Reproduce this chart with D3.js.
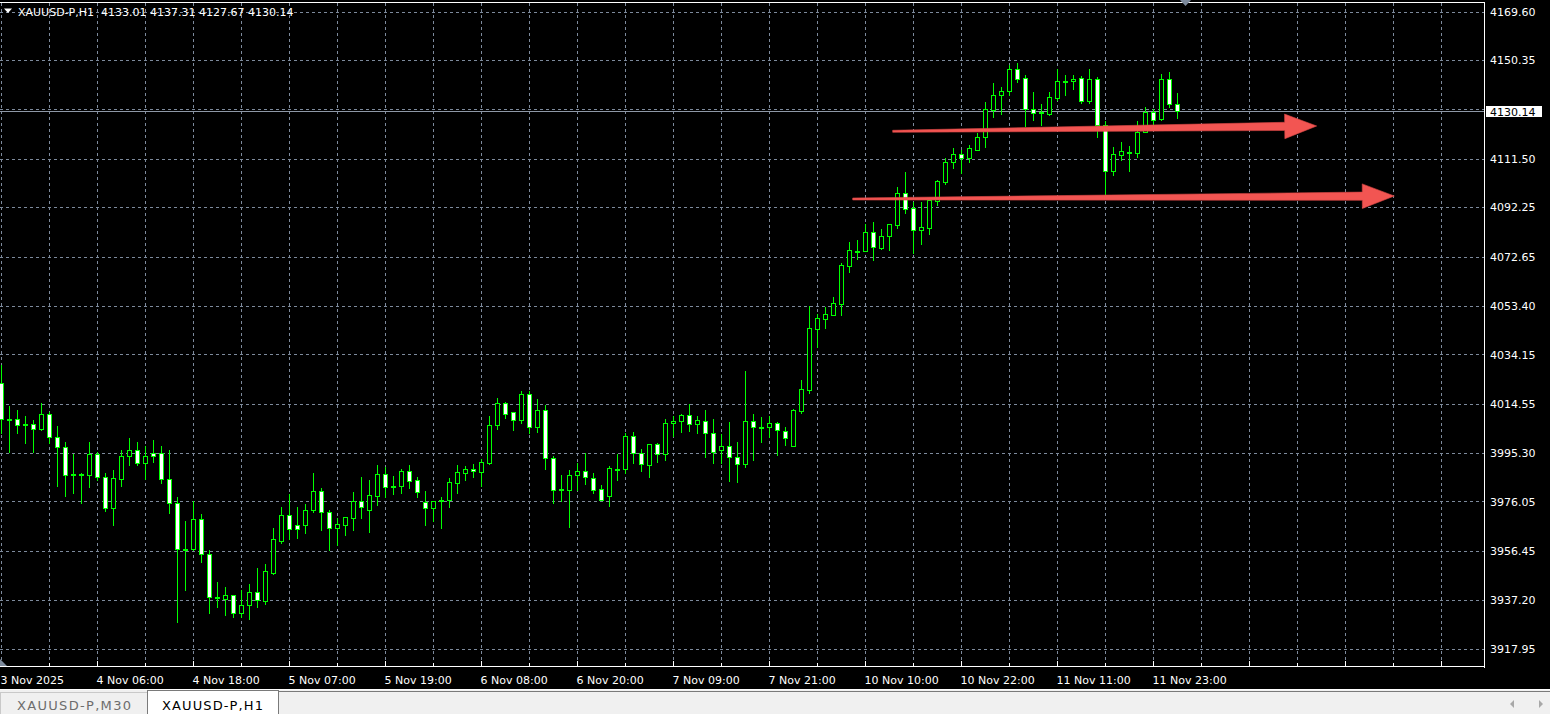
<!DOCTYPE html>
<html><head><meta charset="utf-8">
<script src="https://cdn.jsdelivr.net/npm/d3@7"></script>
<style>html,body{margin:0;padding:0;background:#000;overflow:hidden}svg{display:block}</style>
</head><body><svg id="c" width="1550" height="714"></svg>
<script>
// ---------------- data ----------------
const symbolTitle = "XAUUSD-P,H1";
const opens = [4022.72,4008.60,4008.50,4006.52,4006.52,4004.54,4010.47,4001.39,3997.43,3986.89,
3986.89,3986.61,3994.79,3985.58,3973.33,3985.03,3994.11,3996.37,3991.11,3995.18,
3995.18,3984.79,3975.55,3957.38,3957.14,3968.99,3955.16,3938.02,3937.62,3938.97,
3932.09,3935.02,3940.27,3936.83,3947.89,3960.54,3970.57,3966.62,3966.62,3972.55,
3980.05,3971.75,3965.55,3966.74,3969.62,3976.10,3972.78,3978.31,3986.77,3982.14,
3982.26,3987.95,3984.40,3975.71,3973.57,3976.61,3976.73,3983.45,3987.40,3988.74,
3987.79,3991.35,4006.13,4014.82,4011.26,4008.34,4018.49,4005.34,4012.05,3993.33,
3980.76,3980.76,3986.37,3987.95,3985.19,3980.84,3978.31,3988.98,3988.74,4001.78,
3995.30,3990.32,3998.62,3994.91,4006.92,4007.94,4010.08,4006.76,4007.71,4002.96,
3996.25,3997.83,3993.48,3990.95,4007.71,4005.57,4005.34,4006.92,4003.76,3998.07,
4011.89,4020.07,4044.29,4048.24,4049.82,4054.16,4069.17,4075.10,4075.10,4082.49,
4076.29,4081.03,4085.37,4097.78,4091.85,4083.40,4084.07,4094.85,4102.24,4110.14,
4113.18,4111.60,4115.00,4120.14,4130.68,4136.49,4138.07,4146.76,4143.21,4130.96,
4129.89,4129.22,4135.54,4142.02,4142.02,4143.21,4134.36,4142.81,4124.88,4106.71,
4113.03,4114.21,4113.82,4121.99,4129.89,4127.25,4142.81,4133.01];
const highs = [4029.95,4013.75,4012.17,4009.80,4008.22,4014.82,4011.38,4005.85,3999.53,3994.79,
3987.30,3999.53,3995.60,3987.16,3988.47,3996.37,4001.11,3999.53,3997.95,4000.32,
3997.95,3996.37,3977.68,3968.20,3976.10,3971.08,3956.86,3944.22,3942.13,3939.10,
3941.06,3943.43,3949.75,3951.33,3965.55,3973.97,3978.99,3973.97,3975.03,3987.16,
3981.36,3972.66,3969.50,3969.90,3979.78,3985.58,3984.52,3990.32,3989.53,3986.10,
3988.86,3990.32,3985.58,3980.05,3976.20,3977.68,3985.31,3990.44,3990.05,3990.84,
3992.93,4009.80,4016.91,4015.33,4011.38,4019.79,4019.79,4016.63,4014.14,3994.00,
3986.37,3988.47,3991.11,3995.30,3987.16,3982.42,3990.05,3994.79,4002.96,4003.48,
3996.64,3998.70,3999.13,4008.73,4009.80,4010.59,4014.54,4009.80,4012.17,4008.61,
4002.69,4007.43,3999.53,4027.46,4010.47,4009.28,4009.80,4007.55,4005.34,4012.56,
4024.02,4053.25,4050.09,4052.98,4056.93,4070.12,4078.54,4079.33,4085.53,4086.44,
4083.67,4085.60,4100.27,4106.19,4094.34,4094.34,4095.20,4103.03,4111.72,4115.67,
4114.88,4116.86,4121.48,4133.84,4141.47,4139.89,4148.34,4149.13,4144.63,4137.80,
4133.05,4137.80,4146.76,4144.63,4144.63,4144.12,4147.00,4143.60,4126.22,4116.19,
4118.04,4116.46,4126.46,4131.75,4131.20,4144.91,4145.70,4137.31];
const lows = [4003.08,3995.58,4003.20,3999.25,3995.58,4004.40,3999.25,3982.14,3978.20,3979.50,
3975.55,3981.87,3984.52,3972.39,3966.74,3982.14,3990.56,3990.56,3985.03,3991.63,
3983.45,3971.60,3928.54,3941.06,3957.00,3952.24,3932.09,3934.46,3931.18,3930.51,
3930.51,3929.72,3934.46,3935.53,3947.38,3959.75,3961.33,3961.60,3963.58,3971.87,
3964.76,3956.86,3958.84,3962.79,3964.76,3969.50,3964.00,3974.76,3977.92,3978.99,
3979.26,3981.36,3977.92,3966.86,3968.44,3965.55,3973.97,3979.50,3984.52,3985.82,
3982.14,3990.84,4004.78,4009.01,4004.27,4007.15,4002.96,4003.48,3988.98,3975.31,
3976.10,3965.83,3980.45,3982.94,3979.26,3976.50,3974.36,3984.52,3987.40,3991.35,
3988.19,3985.58,3991.63,3992.42,4001.90,4003.48,4003.99,4003.20,3993.72,3991.35,
3991.35,3984.24,3983.84,3989.77,3992.42,3999.53,4001.62,3994.39,3998.34,3998.00,
4011.10,4019.00,4037.18,4044.56,4049.70,4049.70,4066.69,4071.94,4075.00,4071.43,
4075.65,4075.38,4084.07,4090.11,4074.31,4077.75,4081.70,4093.27,4101.45,4107.77,
4105.91,4110.14,4114.88,4116.19,4128.04,4129.10,4136.73,4141.75,4124.36,4126.73,
4124.64,4128.59,4134.63,4136.73,4139.10,4133.33,4133.33,4120.14,4096.99,4105.13,
4110.93,4106.71,4112.00,4121.90,4124.88,4126.73,4131.99,4127.67];
const closes = [4008.50,4008.40,4006.13,4006.40,4004.54,4010.47,4001.39,3997.43,3986.61,3986.80,
3986.95,3994.79,3985.58,3973.33,3985.19,3993.88,3996.37,3991.11,3993.88,3994.11,
3984.79,3975.55,3957.38,3957.30,3968.99,3955.16,3938.18,3938.10,3938.97,3931.86,
3935.02,3940.27,3936.99,3948.45,3961.09,3970.57,3965.04,3965.04,3972.55,3980.05,
3971.75,3965.55,3967.13,3969.78,3976.10,3973.73,3978.47,3986.77,3981.87,3982.20,
3988.07,3984.24,3979.89,3973.57,3976.10,3976.55,3983.61,3987.56,3988.74,3987.95,
3991.51,4006.13,4014.82,4010.71,4008.34,4018.49,4005.34,4012.05,3993.33,3980.57,
3980.80,3986.37,3987.95,3985.58,3980.68,3976.73,3989.14,3989.05,4001.78,3995.30,
3990.72,3998.62,3994.91,4006.92,4007.71,4010.08,4006.76,4008.10,4002.96,3995.70,
3997.83,3993.48,3990.95,4007.71,4005.34,4005.60,4006.92,4004.15,4000.99,4012.17,
4020.35,4044.45,4048.40,4050.09,4054.32,4069.33,4075.38,4075.15,4082.49,4076.68,
4080.91,4085.53,4097.78,4091.69,4083.40,4084.34,4095.13,4102.52,4110.14,4113.18,
4111.60,4115.55,4119.90,4130.96,4136.49,4138.07,4146.76,4143.05,4130.96,4129.62,
4129.95,4135.82,4142.02,4142.08,4142.81,4134.36,4142.81,4124.88,4106.71,4113.18,
4114.37,4114.25,4121.99,4129.89,4126.85,4142.81,4132.94,4130.14];
const timeLabels = ["3 Nov 2025","4 Nov 06:00","4 Nov 18:00","5 Nov 07:00","5 Nov 19:00","6 Nov 08:00","6 Nov 20:00","7 Nov 09:00","7 Nov 21:00","10 Nov 10:00","10 Nov 22:00","11 Nov 11:00","11 Nov 23:00"];
const timeLabelBars = [0,12,24,36,48,60,72,84,96,108,120,132,144];
const priceTicks = [4169.60,4150.35,4130.95,4111.50,4092.25,4072.65,4053.40,4034.15,4014.55,3995.30,3976.05,3956.45,3937.20,3917.95];
const currentPrice = 4130.14;
const tabNames = ["XAUUSD-P,M30","XAUUSD-P,H1"];
// user-drawn arrows: [bar index, price]
const arrowTails = [[111.4,4122.27],[106.4,4095.53]];
const arrowTips  = [[164.4,4124.37],[174.1,4096.71]];

// ---------------- layout ----------------
const W = 1550, H = 714;
const plotL = 0, plotR = 1484, plotT = 2, plotB = 667;
const totalBars = 185;
const FONT = "'DejaVu Sans', sans-serif";
const GREEN = "#00ff00", GRID = "#7d8a9c";

const svg = d3.select("#c");
svg.append("rect").attr("width", W).attr("height", H).attr("fill", "#000");

const x = d3.scaleLinear().domain([0, totalBars]).range([1.5, 1.5 + 8 * totalBars]);
const y = d3.scaleLinear().domain([3917.95, 4169.60]).range([648.5, 11.5]);
const py = v => Math.round(y(v)) + 0.5;

// grid
const g = svg.append("g").attr("shape-rendering", "crispEdges");
g.selectAll(".hg").data(priceTicks).join("line")
  .attr("x1", plotL).attr("x2", plotR).attr("y1", d => py(d)).attr("y2", d => py(d))
  .attr("stroke", GRID).attr("stroke-dasharray", "3,3");
const vIdx = d3.range(0, totalBars + 1, 6).filter(i => x(i) < plotR - 1);
g.selectAll(".vg").data(vIdx).join("line")
  .attr("x1", d => x(d)).attr("x2", d => x(d)).attr("y1", plotT + 1).attr("y2", plotB)
  .attr("stroke", GRID).attr("stroke-dasharray", "3,3");

// current price line
g.append("line").attr("x1", plotL).attr("x2", plotR)
  .attr("y1", py(currentPrice)).attr("y2", py(currentPrice)).attr("stroke", "#8e98a6");

// candles
const bars = opens.map((o, i) => ({i, o, h: highs[i], l: lows[i], c: closes[i]}));
const cg = svg.append("g").attr("shape-rendering", "crispEdges");
cg.selectAll(".wick").data(bars).join("line")
  .attr("x1", d => x(d.i)).attr("x2", d => x(d.i))
  .attr("y1", d => py(d.h) - 0.5).attr("y2", d => py(d.l) + 0.5)
  .attr("stroke", GREEN);
cg.selectAll(".body").data(bars).join("rect")
  .attr("x", d => x(d.i) - 2).attr("width", 4)
  .attr("y", d => py(Math.max(d.o, d.c)))
  .attr("height", d => Math.max(1, py(Math.min(d.o, d.c)) - py(Math.max(d.o, d.c))))
  .attr("fill", d => d.c > d.o ? "#000" : "#fff")
  .attr("stroke", GREEN);

// arrows
const ag = svg.append("g");
arrowTails.forEach((t, k) => {
  const tip = arrowTips[k];
  const tx = x(t[0]), ty = y(t[1]), px = x(tip[0]), pyy = y(tip[1]);
  const len = Math.hypot(px - tx, pyy - ty);
  const ux = (px - tx) / len, uy = (pyy - ty) / len, nx = -uy, ny = ux;
  const headL = 32, headW = 12.3, shaftT = 1, shaftB = 4.1;
  const bx = px - ux * headL, by = pyy - uy * headL;
  const pts = [
    [tx + nx * shaftT, ty + ny * shaftT],
    [bx + nx * shaftB, by + ny * shaftB],
    [bx + nx * headW, by + ny * headW],
    [px, pyy],
    [bx - nx * headW, by - ny * headW],
    [bx - nx * shaftB, by - ny * shaftB],
    [tx - nx * shaftT, ty - ny * shaftT]
  ];
  ag.append("polygon").attr("points", pts.map(p => p.join(",")).join(" "))
    .attr("fill", "#f25552").attr("stroke", "#d84644").attr("stroke-width", 0.6);
});

// frame
const fg = svg.append("g").attr("shape-rendering", "crispEdges");
fg.append("line").attr("x1", 0).attr("x2", plotR + 0.5).attr("y1", plotT + 0.5).attr("y2", plotT + 0.5).attr("stroke", "#fff");
fg.append("line").attr("x1", plotR + 0.5).attr("x2", plotR + 0.5).attr("y1", plotT).attr("y2", plotB + 1).attr("stroke", "#fff");
fg.append("line").attr("x1", 0).attr("x2", plotR + 0.5).attr("y1", plotB - 0.5).attr("y2", plotB - 0.5).attr("stroke", "#fff");

// time ticks (inside bottom edge)
fg.selectAll(".tt").data(vIdx).join("line")
  .attr("x1", d => x(d)).attr("x2", d => x(d))
  .attr("y1", d => plotB - 1).attr("y2", d => plotB - 1 - (d % 12 === 0 ? 5 : 3))
  .attr("stroke", "#fff");

// shift markers
svg.append("path").attr("d", `M${1180},0 L${1191},0 L${1185.5},6 Z`).attr("fill", "#7d8a9c");
svg.append("path").attr("d", `M0,${plotB - 8} L0,${plotB - 1} L7,${plotB - 1} Z`).attr("fill", "#7d8a9c");

// price axis labels
const fmt = d3.format(".2f");
svg.selectAll(".pl").data(priceTicks.filter(t => Math.abs(y(t) - y(currentPrice)) > 8)).join("text")
  .attr("x", 1490).attr("y", d => y(d) + 4.2)
  .attr("fill", "#fff").attr("font-family", FONT).attr("font-size", 11)
  .text(d => fmt(d));
// current price box
svg.append("rect").attr("x", 1486).attr("y", Math.round(y(currentPrice)) - 5).attr("width", 56).attr("height", 11)
  .attr("fill", "#fff").attr("shape-rendering", "crispEdges");
svg.append("text").attr("x", 1490).attr("y", y(currentPrice) + 4.2)
  .attr("fill", "#000").attr("font-family", FONT).attr("font-size", 11).text(fmt(currentPrice));

// time labels
svg.selectAll(".tl").data(timeLabels).join("text")
  .attr("x", (d, k) => Math.max(0, x(timeLabelBars[k]) - 1)).attr("y", 683.5)
  .attr("fill", "#fff").attr("font-family", FONT).attr("font-size", 11)
  .text(d => d);

// header
svg.append("path").attr("d", "M4,8.5 L12,8.5 L8,13 Z").attr("fill", "#fff");
svg.append("text").attr("x", 18).attr("y", 16).attr("fill", "#fff")
  .attr("font-family", FONT).attr("font-size", 11).attr("xml:space", "preserve")
  .text(`${symbolTitle}  ${fmt(opens[opens.length-1])} ${fmt(highs[highs.length-1])} ${fmt(lows[lows.length-1])} ${fmt(closes[closes.length-1])}`);

// tab bar
const tb = svg.append("g").attr("shape-rendering", "crispEdges");
tb.append("rect").attr("x", 0).attr("y", 689).attr("width", W).attr("height", H - 689).attr("fill", "#f0f0f0");
tb.append("line").attr("x1", 0).attr("x2", W).attr("y1", 689.5).attr("y2", 689.5).attr("stroke", "#ffffff");
tb.append("line").attr("x1", 278).attr("x2", W).attr("y1", 691.5).attr("y2", 691.5).attr("stroke", "#7a7a7a");
tb.append("rect").attr("x", 0.5).attr("y", 692.5).attr("width", 146.5).attr("height", 24).attr("fill", "#f0f0f0").attr("stroke", "#c9c9c9");
tb.append("rect").attr("x", 147.5).attr("y", 690.5).attr("width", 130.5).attr("height", 26).attr("fill", "#fff").attr("stroke", "#7a7a7a");
svg.append("text").attr("x", 17).attr("y", 709.5).attr("fill", "#6d6d6d").attr("font-family", FONT).attr("font-size", 13)
  .attr("textLength", 114).text(tabNames[0]);
svg.append("text").attr("x", 162).attr("y", 709.5).attr("fill", "#000").attr("font-family", FONT).attr("font-size", 13)
  .attr("textLength", 101).text(tabNames[1]);
svg.append("path").attr("d", "M1514,700 L1514,708 L1510,704 Z").attr("fill", "#a8a8a8");
svg.append("path").attr("d", "M1539,700 L1539,708 L1543,704 Z").attr("fill", "#a8a8a8");
</script>
</body></html>
